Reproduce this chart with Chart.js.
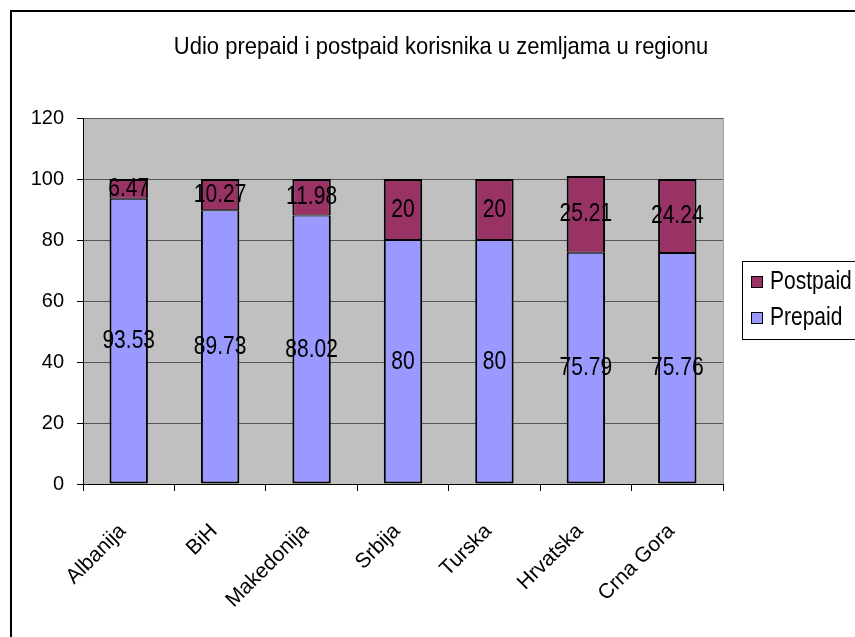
<!DOCTYPE html>
<html>
<head>
<meta charset="utf-8">
<script src="https://cdn.jsdelivr.net/npm/chart.js@4.4.1/dist/chart.umd.min.js"></script>
<style>
  html, body { margin: 0; padding: 0; background: #fff; }
  #wrap { width: 855px; height: 637px; }
</style>
</head>
<body>
<div id="wrap"><canvas id="chart"></canvas></div>
<script>
// podaci
const countries = ['Albanija', 'BiH', 'Makedonija', 'Srbija', 'Turska', 'Hrvatska', 'Crna Gora'];
const prepaid   = [93.53, 89.73, 88.02, 80, 80, 75.79, 75.76];
const postpaid  = [6.47, 10.27, 11.98, 20, 20, 25.21, 24.24];
const yTicks    = [0, 20, 40, 60, 80, 100, 120];
const chartTitle = 'Udio prepaid i postpaid korisnika u zemljama u regionu';

const FONT = '"Liberation Sans", Arial, sans-serif';

// tekst malo razvucen po visini, kao u Excelu
function stretchedText(ctx, text, x, y, sy) {
  ctx.save();
  ctx.translate(x, y);
  ctx.scale(1, sy);
  ctx.fillText(text, 0, 0);
  ctx.restore();
}

// okvir, siva pozadina, naslov, oznake i legenda
const excelLook = {
  id: 'excelLook',
  beforeDraw(chart) {
    const { ctx, chartArea: a } = chart;
    ctx.save();
    ctx.fillStyle = '#c0c0c0';
    ctx.fillRect(a.left, a.top, a.right - a.left, a.bottom - a.top);
    ctx.strokeStyle = '#a0a0a0';
    ctx.lineWidth = 1;
    ctx.beginPath();
    ctx.moveTo(a.right + 0.5, a.top);
    ctx.lineTo(a.right + 0.5, a.bottom);
    ctx.stroke();
    // okvir
    ctx.strokeStyle = '#000';
    ctx.lineWidth = 2;
    ctx.strokeRect(11, 11, 1000, 1000);
    // naslov
    ctx.fillStyle = '#000';
    ctx.font = '22px ' + FONT;
    ctx.textAlign = 'center';
    ctx.textBaseline = 'middle';
    stretchedText(ctx, chartTitle, 441, 47, 1.1);
    ctx.restore();
  },
  afterDatasetsDraw(chart) {
    const { ctx } = chart;
    ctx.save();
    ctx.fillStyle = '#000';
    ctx.font = '21px ' + FONT;
    ctx.textAlign = 'center';
    ctx.textBaseline = 'middle';
    chart.data.datasets.forEach((ds, i) => {
      chart.getDatasetMeta(i).data.forEach((bar, j) => {
        stretchedText(ctx, String(ds.data[j]), bar.x, (bar.y + bar.base) / 2, 1.22);
      });
    });
    ctx.restore();
  },
  afterDraw(chart) {
    const { ctx } = chart;
    ctx.save();
    ctx.fillStyle = '#fff';
    ctx.fillRect(742, 261, 130, 78);
    ctx.strokeStyle = '#000';
    ctx.lineWidth = 1;
    ctx.strokeRect(742.5, 261.5, 130, 78);
    ctx.font = '21px ' + FONT;
    ctx.textAlign = 'left';
    ctx.textBaseline = 'middle';
    const items = chart.data.datasets.slice().reverse();
    items.forEach((ds, k) => {
      const cy = 282 + k * 36;
      ctx.fillStyle = ds.backgroundColor;
      ctx.fillRect(751, cy - 6, 12, 12);
      ctx.strokeStyle = '#000';
      ctx.strokeRect(751.5, cy - 5.5, 11, 11);
      ctx.fillStyle = '#000';
      stretchedText(ctx, ds.label, 770, cy, 1.2);
    });
    ctx.restore();
  }
};

new Chart(document.getElementById('chart').getContext('2d'), {
  type: 'bar',
  data: {
    labels: countries,
    datasets: [
      {
        label: 'Prepaid',
        data: prepaid,
        backgroundColor: '#9999ff',
        borderColor: '#000',
        borderWidth: { top: 1, bottom: 2, left: 2, right: 2 },
        borderSkipped: false,
        barPercentage: 0.42,
        categoryPercentage: 1
      },
      {
        label: 'Postpaid',
        data: postpaid,
        backgroundColor: '#993366',
        borderColor: '#000',
        borderWidth: { top: 2, bottom: 1, left: 2, right: 2 },
        borderSkipped: false,
        barPercentage: 0.42,
        categoryPercentage: 1
      }
    ]
  },
  options: {
    responsive: true,
    maintainAspectRatio: false,
    animation: false,
    layout: { padding: { left: 10, right: 132, top: 118, bottom: 0 } },
    plugins: {
      legend: { display: false },
      title: { display: false },
      tooltip: { enabled: false }
    },
    scales: {
      x: {
        stacked: true,
        afterFit: s => { s.height = 153; },
        grid: { display: true, drawOnChartArea: false, offset: true, tickLength: 7, tickColor: '#000' },
        border: { color: '#000', width: 1 },
        ticks: {
          color: '#000',
          font: { family: FONT, size: 21 },
          minRotation: 45,
          maxRotation: 45,
          padding: 28,
          labelOffset: -6,
          autoSkip: false
        }
      },
      y: {
        stacked: true,
        min: 0,
        max: 120,
        afterFit: s => { s.width = 73; },
        afterBuildTicks: s => { s.ticks = yTicks.map(v => ({ value: v })); },
        grid: { color: '#555', tickLength: 6, tickColor: '#000' },
        border: { color: '#000', width: 1 },
        ticks: {
          color: '#000',
          font: { family: FONT, size: 20 },
          padding: 13
        }
      }
    }
  },
  plugins: [excelLook]
});
</script>
</body>
</html>
